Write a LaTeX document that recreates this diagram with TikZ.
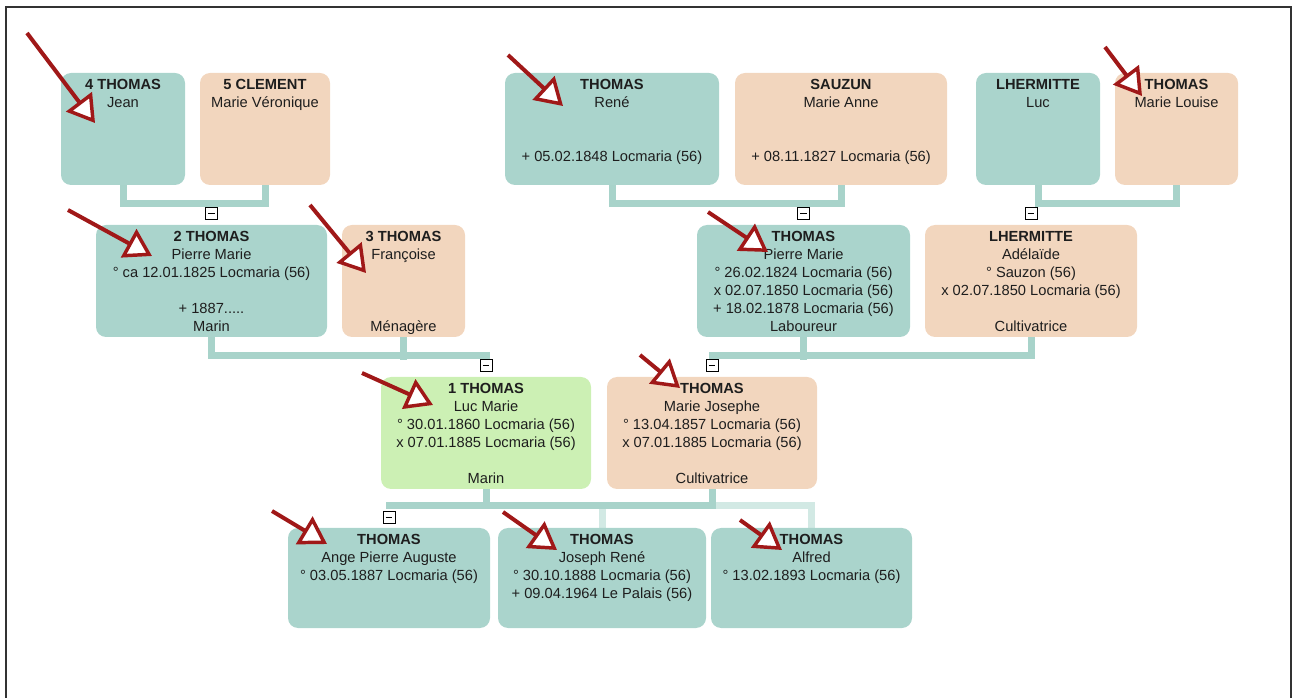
\documentclass[tikz,border=0pt]{standalone}
\usepackage{fontspec}
\setmainfont{Liberation Sans}
\usetikzlibrary{arrows.meta,calc,backgrounds}
\definecolor{cteal}{HTML}{AAD4CC}
\definecolor{cpeach}{HTML}{F2D6BE}
\definecolor{cgreen}{HTML}{CCF0B4}
\definecolor{clink}{HTML}{A8D3CA}
\definecolor{clinklight}{HTML}{D2E9E4}
\definecolor{cred}{HTML}{A01818}
\definecolor{ctext}{HTML}{1E1E1E}
\newcommand\card[3]{\parbox[c][#2][t]{#1}{\centering\fontsize{11}{13.5}\selectfont\vspace*{4.5pt}#3}}
\tikzset{
  person/.style={rounded corners=7.5pt, inner sep=0pt, text=ctext},
  tealbox/.style={person, fill=cteal},
  peachbox/.style={person, fill=cpeach},
  greenbox/.style={person, fill=cgreen},
  link/.style={draw=clink, line width=5.25pt, line cap=rect, line join=miter},
  linklight/.style={draw=clinklight, line width=5.25pt, line cap=rect, line join=miter},
  minusbox/.style={draw=black, fill=white, line width=0.7pt, minimum size=9pt, inner sep=0pt,
    path picture={\draw[line width=0.8pt] ([xshift=-2.5pt]path picture bounding box.center) -- ([xshift=2.5pt]path picture bounding box.center);}},
  redarr/.style={draw=cred, line width=3pt, -{Triangle[length=20pt,width=24pt,fill=white,line width=2.6pt]}},
}
\begin{document}
\begin{tikzpicture}[x=0.75pt,y=-0.75pt]
\useasboundingbox (0,0) rectangle (1293,698);
\draw[line width=1.5pt, draw=black!80] (6,698) -- (6,7) -- (1291,7) -- (1291,698);

% row 1
\node[tealbox] (n4) at (123,129) {\card{93pt}{84pt}{\textbf{4 THOMAS}\\Jean}};
\node[peachbox] (n5) at (265,129) {\card{97.5pt}{84pt}{\textbf{5 CLEMENT}\\Marie Véronique}};
\node[tealbox] (rene) at (612,129) {\card{160.5pt}{84pt}{\textbf{THOMAS}\\René\\\mbox{}\\\mbox{}\\+ 05.02.1848 Locmaria (56)}};
\node[peachbox] (sauzun) at (841,129) {\card{159pt}{84pt}{\textbf{SAUZUN}\\Marie Anne\\\mbox{}\\\mbox{}\\+ 08.11.1827 Locmaria (56)}};
\node[tealbox] (luc) at (1038,129) {\card{93pt}{84pt}{\textbf{LHERMITTE}\\Luc}};
\node[peachbox] (mlouise) at (1176.5,129) {\card{92.25pt}{84pt}{\textbf{THOMAS}\\Marie Louise}};

% row 2
\node[tealbox] (n2) at (211.5,281) {\card{173.25pt}{84pt}{\textbf{2 THOMAS}\\Pierre Marie\\° ca 12.01.1825 Locmaria (56)\\\mbox{}\\+ 1887.....\\Marin}};
\node[peachbox] (n3) at (403.5,281) {\card{92.25pt}{84pt}{\textbf{3 THOMAS}\\Françoise\\\mbox{}\\\mbox{}\\\mbox{}\\Ménagère}};
\node[tealbox] (pmarie) at (803.5,281) {\card{159.75pt}{84pt}{\textbf{THOMAS}\\Pierre Marie\\° 26.02.1824 Locmaria (56)\\x 02.07.1850 Locmaria (56)\\+ 18.02.1878 Locmaria (56)\\Laboureur}};
\node[peachbox] (adelaide) at (1031,281) {\card{159pt}{84pt}{\textbf{LHERMITTE}\\Adélaïde\\° Sauzon (56)\\x 02.07.1850 Locmaria (56)\\\mbox{}\\Cultivatrice}};

% row 3
\node[greenbox] (n1) at (486,433) {\card{157.5pt}{84pt}{\textbf{1 THOMAS}\\Luc Marie\\° 30.01.1860 Locmaria (56)\\x 07.01.1885 Locmaria (56)\\\mbox{}\\Marin}};
\node[peachbox] (mjos) at (712,433) {\card{157.5pt}{84pt}{\textbf{THOMAS}\\Marie Josephe\\° 13.04.1857 Locmaria (56)\\x 07.01.1885 Locmaria (56)\\\mbox{}\\Cultivatrice}};

% row 4
\node[tealbox] (ange) at (389,578) {\card{151.5pt}{75pt}{\textbf{THOMAS}\\Ange Pierre Auguste\\° 03.05.1887 Locmaria (56)}};
\node[tealbox] (joseph) at (602,578) {\card{156pt}{75pt}{\textbf{THOMAS}\\Joseph René\\° 30.10.1888 Locmaria (56)\\+ 09.04.1964 Le Palais (56)}};
\node[tealbox] (alfred) at (811.5,578) {\card{150.75pt}{75pt}{\textbf{THOMAS}\\Alfred\\° 13.02.1893 Locmaria (56)}};

% connectors
\begin{scope}[on background layer]
\draw[link] (n4.south) -- ++(0,18) -| (n5.south);
\draw[link] (rene.south) -- ++(0,18) -| (sauzun.south);
\draw[link] (luc.south) -- ++(0,18) -| (mlouise.south);
\draw[link] (n2.south) |- ($(n1.north)+(0,-21)$);
\draw[link] (n3.south) -- ++(0,19);
\draw[link] (adelaide.south) |- ($(mjos.north)+(0,-21)$);
\draw[link] (pmarie.south) -- ++(0,19);
\draw[linklight] ($(ange.north)+(0,-22)$) -| (alfred.north);
\draw[linklight] (joseph.north) -- ++(0,-22);
\draw[link] (n1.south) |- ($(ange.north)+(0,-22)$);
\draw[link] (mjos.south) |- ($(ange.north)+(0,-22)$);
\end{scope}

% collapse markers
\node[minusbox] (m2) at ($(n2.north)+(0,-11)$) {};
\node[minusbox] (mpm) at ($(pmarie.north)+(0,-11)$) {};
\node[minusbox] (mad) at ($(adelaide.north)+(0,-11)$) {};
\node[minusbox] (m1) at ($(n1.north)+(0,-11)$) {};
\node[minusbox] (mmj) at ($(mjos.north)+(0,-11)$) {};
\node[minusbox] (mang) at ($(ange.north)+(0,-10)$) {};

% red arrows
\coordinate (a1s) at (27,33);   \coordinate (a1t) at (95,123);
\coordinate (a2s) at (68,210);  \coordinate (a2t) at (152,256);
\coordinate (a3s) at (310,205); \coordinate (a3t) at (366,273);
\coordinate (a4s) at (508,55);  \coordinate (a4t) at (563,106);
\coordinate (a5s) at (1105,47); \coordinate (a5t) at (1142,96);
\coordinate (a6s) at (708,212); \coordinate (a6t) at (768,252);
\coordinate (a7s) at (362,373); \coordinate (a7t) at (433,405);
\coordinate (a8s) at (640,355); \coordinate (a8t) at (680,388);
\coordinate (a9s) at (272,511); \coordinate (a9t) at (327,544);
\coordinate (a10s) at (503,512); \coordinate (a10t) at (557,550);
\coordinate (a11s) at (740,520); \coordinate (a11t) at (782,550);
\foreach \i in {1,...,11} { \draw[redarr] (a\i s) -- (a\i t); }
\end{tikzpicture}
\end{document}
